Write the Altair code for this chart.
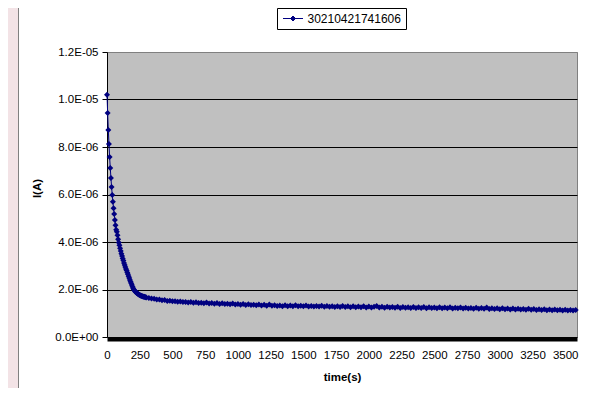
import altair as alt
import pandas as pd

series_name = "30210421741606"

# readings every 5 s, 0..300 s (current in microamps)
early_times = list(range(0, 301, 5))
early_current = [
    10.2, 9.43, 8.72, 8.13, 7.58, 7.12, 6.70, 6.32, 5.98, 5.70,
    5.42, 5.18, 4.93, 4.71, 4.52, 4.43, 4.28, 4.12, 3.98, 3.86,
    3.74, 3.62, 3.51, 3.41, 3.31, 3.22, 3.12, 3.03, 2.95, 2.86,
    2.80, 2.72, 2.64, 2.56, 2.48, 2.40, 2.33, 2.26, 2.19, 2.12,
    2.05, 2.00, 1.96, 1.92, 1.89, 1.86, 1.84, 1.82, 1.80, 1.78,
    1.77, 1.75, 1.74, 1.73, 1.72, 1.71, 1.70, 1.69, 1.68, 1.67,
    1.66,
]

# readings every 20 s, 320..3580 s (current in microamps)
late_times = list(range(320, 3581, 20))
late_current = [
    1.64, 1.62, 1.61, 1.58, 1.58, 1.55, 1.56, 1.52, 1.53, 1.51,
    1.51, 1.48, 1.49, 1.47, 1.47, 1.45, 1.47, 1.44, 1.46, 1.43,
    1.44, 1.42, 1.45, 1.41, 1.43, 1.40, 1.43, 1.39, 1.42, 1.39,
    1.40, 1.38, 1.41, 1.37, 1.39, 1.36, 1.39, 1.35, 1.38, 1.35,
    1.36, 1.34, 1.37, 1.33, 1.36, 1.32, 1.37, 1.32, 1.34, 1.31,
    1.33, 1.30, 1.34, 1.30, 1.33, 1.29, 1.34, 1.29, 1.32, 1.29,
    1.33, 1.28, 1.31, 1.28, 1.31, 1.28, 1.32, 1.27, 1.31, 1.27,
    1.30, 1.26, 1.30, 1.26, 1.31, 1.26, 1.29, 1.25, 1.30, 1.25,
    1.28, 1.25, 1.29, 1.24, 1.28, 1.24, 1.27, 1.31, 1.24, 1.27,
    1.23, 1.27, 1.24, 1.26, 1.23, 1.27, 1.22, 1.26, 1.23, 1.25,
    1.22, 1.26, 1.22, 1.25, 1.22, 1.26, 1.21, 1.25, 1.22, 1.24,
    1.21, 1.25, 1.21, 1.24, 1.21, 1.25, 1.20, 1.23, 1.21, 1.24,
    1.20, 1.23, 1.20, 1.22, 1.19, 1.23, 1.19, 1.22, 1.19, 1.24,
    1.18, 1.21, 1.18, 1.21, 1.17, 1.21, 1.17, 1.20, 1.16, 1.20,
    1.16, 1.19, 1.16, 1.18, 1.15, 1.19, 1.15, 1.18, 1.14, 1.17,
    1.14, 1.17, 1.13, 1.16, 1.13, 1.16, 1.13, 1.15, 1.12, 1.15,
    1.12, 1.14, 1.12, 1.14,
]

x_ticks = list(range(0, 3501, 250))
y_ticks = [0, 2, 4, 6, 8, 10, 12]

times = early_times + late_times
currents = early_current + late_current
assert len(times) == len(currents)

df = pd.DataFrame({"time": times, "current": currents, "series": series_name})

NAVY = "#000080"
FONT = "Liberation Sans"

x_enc = alt.X(
    "time:Q",
    scale=alt.Scale(domain=[0, 3590], nice=False, zero=False),
    axis=alt.Axis(
        values=x_ticks, format="d", title="time(s)", grid=False, tickSize=0,
        domainWidth=4, domainColor="black", offset=2, labelPadding=10,
        labelFontSize=11.5, labelColor="black", labelFont=FONT,
        titleFontSize=11.5, titleFontWeight="bold", titleFont=FONT,
        titleColor="black", titleY=38, titleBaseline="middle",
        labelFlush=False, labelOverlap=False,
    ),
)
y_enc = alt.Y(
    "current:Q",
    scale=alt.Scale(domain=[0, 12], nice=False),
    axis=alt.Axis(
        values=y_ticks, title="I(A)", grid=True,
        gridColor={"condition": {"test": "datum.value == 12", "value": "#808080"}, "value": "black"},
        gridWidth=1, tickSize=5, tickColor="black", domainColor="black",
        labelPadding=4, labelFontSize=11.5, labelColor="black", labelFont=FONT,
        labelExpr="datum.value == 0 ? '0.0E+00' : (datum.value < 10 ? format(datum.value, '.1f') + 'E-06' : format(datum.value / 10, '.1f') + 'E-05')",
        titleFontSize=11.5, titleFontWeight="bold", titleFont=FONT, titleColor="black",
        titleX=-70, titleY=136, titleBaseline="middle", titleAngle=270,
    ),
)

line = alt.Chart(df).mark_line(color=NAVY, strokeWidth=1).encode(x=x_enc, y=y_enc)

legend_path = "M-2,0L2,0M0,-0.5L0.5,0L0,0.5L-0.5,0Z"
points = alt.Chart(df).mark_point(filled=True, shape="diamond", size=36, opacity=1).encode(
    x=x_enc,
    y=y_enc,
    color=alt.Color(
        "series:N",
        scale=alt.Scale(domain=[series_name], range=[NAVY]),
        legend=alt.Legend(
            title=None, orient="none", legendX=170, legendY=-44,
            padding=4.5, strokeColor="black", fillColor="white",
            symbolType=legend_path, symbolSize=100, symbolStrokeWidth=1,
            symbolStrokeColor=NAVY, symbolFillColor=NAVY,
            symbolOffset=5.5, labelOffset=8.5,
            labelFontSize=12, labelFont=FONT, labelColor="black",
        ),
    ),
)

blank = alt.Data(values=[{}])
left_strip = alt.Chart(blank).mark_rect(color="#f3e3e6").encode(
    x=alt.value(-99), x2=alt.value(-89), y=alt.value(-44), y2=alt.value(336)
)
left_border = alt.Chart(blank).mark_rule(color="#808080", strokeWidth=1).encode(
    x=alt.value(-88.5), y=alt.value(-44), y2=alt.value(336)
)

chart = alt.layer(
    left_strip, left_border, line, points
).properties(
    width=470, height=285,
    autosize=alt.AutoSizeParams(type="none"),
    padding={"left": 99, "top": 44, "right": 4, "bottom": 51},
    background="white",
).configure_view(
    fill="#c0c0c0", stroke="#808080", strokeWidth=1
)

chart.save("out.html", embed_options={"renderer": "svg", "actions": False})
